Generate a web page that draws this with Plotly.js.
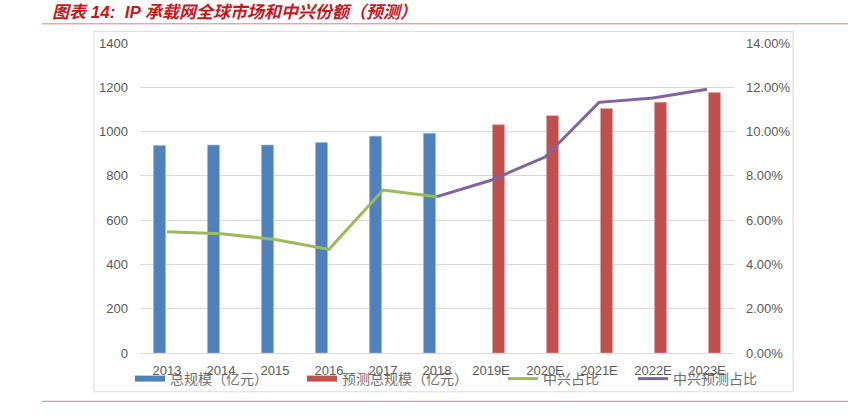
<!DOCTYPE html>
<html>
<head>
<meta charset="utf-8">
<script src="https://cdn.plot.ly/plotly-3.0.1.min.js"></script>
<style>html,body{margin:0;padding:0;background:#fff;}#chart{width:867px;height:420px;}</style>
</head>
<body>
<div id="chart"></div>
<script>
// Data
const years = ['2013','2014','2015','2016','2017','2018','2019E','2020E','2021E','2022E','2023E'];
const actualYears = ['2013','2014','2015','2016','2017','2018'];
const forecastYears = ['2019E','2020E','2021E','2022E','2023E'];
const totalActual = [937, 939, 939, 951, 979, 992];          // 总规模（亿元）
const totalForecast = [1031, 1072, 1104, 1132, 1176];        // 预测总规模（亿元）
const shareActualYears = ['2013','2014','2015','2016','2017','2018'];
const shareActual = [0.0548, 0.0539, 0.0513, 0.0468, 0.0736, 0.0706];   // 中兴占比
const shareForecastYears = ['2018','2019E','2020E','2021E','2022E','2023E'];
const shareForecast = [0.0706, 0.0780, 0.0885, 0.1132, 0.1152, 0.1191]; // 中兴预测占比
const leftTicks = [0, 200, 400, 600, 800, 1000, 1200, 1400];
const rightTicks = [0, 0.02, 0.04, 0.06, 0.08, 0.10, 0.12, 0.14];

const seriesNames = ['总规模（亿元）', '预测总规模（亿元）', '中兴占比', '中兴预测占比'];
const colors = ['#4F81BD', '#C0504D', '#9BBB59', '#8064A2'];

// Build full-length bar arrays
const blueY = years.map(y => { const i = actualYears.indexOf(y); return i >= 0 ? totalActual[i] : null; });
const redY = years.map(y => { const i = forecastYears.indexOf(y); return i >= 0 ? totalForecast[i] : null; });

const CJK = '"Liberation Sans", Arial, "Noto Sans CJK SC", sans-serif';
const gray = '#595959';

const traces = [
  {type:'bar', x: years, y: blueY, name: seriesNames[0], showlegend:false, hoverinfo:'skip',
   marker:{color: colors[0], line:{color:'#9db7d8', width:0.6}}},
  {type:'bar', x: years, y: redY, name: seriesNames[1], showlegend:false, hoverinfo:'skip',
   marker:{color: colors[1], line:{color:'#e0a3a1', width:0.6}}},
  {type:'scatter', mode:'lines', x: shareActualYears, y: shareActual, yaxis:'y2', name: seriesNames[2],
   line:{color: colors[2], width:3}, legend:'legend3'},
  {type:'scatter', mode:'lines', x: shareForecastYears, y: shareForecast, yaxis:'y2', name: seriesNames[3],
   line:{color: colors[3], width:3}, legend:'legend4'},
  // legend stand-ins for bar series (wide flat swatches)
  {type:'scatter', mode:'lines', x:[null], y:[null], name: seriesNames[0], line:{color: colors[0], width:6}, legend:'legend', hoverinfo:'skip'},
  {type:'scatter', mode:'lines', x:[null], y:[null], name: seriesNames[1], line:{color: colors[1], width:6}, legend:'legend2', hoverinfo:'skip'}
];

// pixel helpers (plot area 140..734 x, 42.7..352.7 y)
const L = 140, R = 734, T = 42.7, B = 352.7;
const px = v => (v - L) / (R - L);
const py = v => (B - v) / (B - T);
const legFont = {family: CJK, size: 14, color: '#6e6e6e'};
const mkLeg = (xpx) => ({x: xpx/867, xref:'container', y: 1 - 379/420, yref:'container',
  xanchor:'left', yanchor:'middle', orientation:'h', bgcolor:'rgba(0,0,0,0)', font: legFont,
  borderwidth:0, itemclick:false});

const layout = {
  width: 867, height: 420,
  margin: {l: L, r: 867 - R, t: T, b: 420 - B, pad: 0},
  paper_bgcolor:'#fff', plot_bgcolor:'#fff',
  barmode:'group', bargap: 0.444, bargroupgap: 0.2,
  title: {text:'图表 14:  IP 承载网全球市场和中兴份额（预测）', x: 52/867, xref:'container', xanchor:'left',
    y: 1 - 12/420, yref:'container', yanchor:'middle',
    font:{family: CJK, size:17, color:'#c8161d', weight:'bold', style:'italic'}},
  xaxis: {type:'category', categoryorder:'array', categoryarray: years, range:[-0.5, 10.5],
    showgrid:false, zeroline:false, showline:false, ticks:'', ticklabelstandoff: 8,
    tickfont:{family: CJK, size:13, color: gray}, fixedrange:true},
  yaxis: {range:[0,1400], tickvals: leftTicks, showgrid:true, gridcolor:'#d9d9d9', gridwidth:1,
    zeroline:true, zerolinecolor:'#d9d9d9', zerolinewidth:1, showline:false, ticks:'',
    ticklabelstandoff: 11, tickfont:{family: CJK, size:13, color: gray}, fixedrange:true},
  yaxis2: {overlaying:'y', side:'right', range:[0,0.14], tickvals: rightTicks, tickformat:'.2%',
    showgrid:false, zeroline:false, showline:false, ticks:'', ticklabelstandoff: 11,
    tickfont:{family: CJK, size:13, color: gray}, fixedrange:true},
  legend: mkLeg(130), legend2: mkLeg(302), legend3: mkLeg(503), legend4: mkLeg(633),
  shapes: [
    {type:'rect', xref:'paper', yref:'paper', x0: px(94), x1: px(793), y0: py(391.5), y1: py(31),
     line:{color:'#d9d9d9', width:1}, fillcolor:'rgba(0,0,0,0)', layer:'below'},
    {type:'line', xref:'paper', yref:'paper', x0: px(42), x1: px(848), y0: py(23.5), y1: py(23.5),
     line:{color:'#dd8080', width:1}},
    {type:'line', xref:'paper', yref:'paper', x0: px(42), x1: px(848), y0: py(401), y1: py(401),
     line:{color:'#dd8080', width:1}}
  ]
};

Plotly.newPlot('chart', traces, layout, {staticPlot:true, displayModeBar:false});
</script>
</body>
</html>
